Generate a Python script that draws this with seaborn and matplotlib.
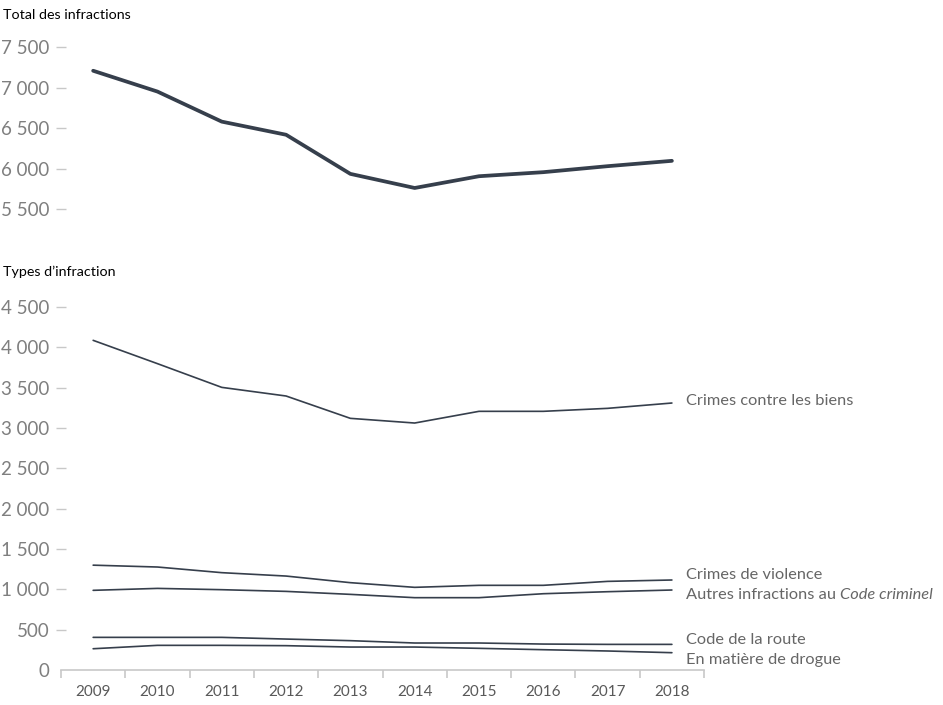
import matplotlib
matplotlib.use("Agg")
from matplotlib import pyplot as plt
from matplotlib.ticker import FuncFormatter
import seaborn as sns

# Données
annees = [2009, 2010, 2011, 2012, 2013, 2014, 2015, 2016, 2017, 2018]
total = [7207, 6950, 6579, 6417, 5934, 5760, 5905, 5955, 6029, 6095]
biens = [4087, 3798, 3504, 3397, 3120, 3062, 3207, 3207, 3244, 3310]
violence = [1300, 1277, 1207, 1165, 1083, 1025, 1050, 1050, 1099, 1116]
autres = [988, 1012, 996, 975, 938, 897, 897, 946, 971, 992]
route = [405, 405, 405, 384, 364, 335, 335, 322, 318, 318]
drogue = [264, 306, 306, 302, 285, 285, 269, 252, 236, 215]

series = [biens, violence, autres, route, drogue]
noms = ["Crimes contre les biens", "Crimes de violence", "Autres infractions au",
        "Code de la route", "En matière de drogue"]
decalages = [1.5, 3.5, -3.5, 3.5, -5]  # décalage vertical des étiquettes (points)

LIGNE = "#363f4c"
GRIS_AXE = "#c8c8c8"
GRIS_TXT = "#7f7f7f"

sns.set_theme(style="white")
plt.rcParams['font.family'] = ['Lato', 'DejaVu Sans']

fig = plt.figure(figsize=(9.43, 7.05), dpi=100)
ax_top = fig.add_axes([0.0647, 0.7035, 0.6819, 0.2298])
ax_bot = fig.add_axes([0.0647, 0.0496, 0.6819, 0.5149])

fmt = FuncFormatter(lambda v, p: f"{int(v):,}".replace(",", " "))

sns.lineplot(x=annees, y=total, ax=ax_top, color=LIGNE, linewidth=2.7)
for vals in series:
    sns.lineplot(x=annees, y=vals, ax=ax_bot, color=LIGNE, linewidth=1.2)

for ax in (ax_top, ax_bot):
    for s in ax.spines.values():
        s.set_visible(False)
    ax.grid(False)
    ax.set_xlim(2008.5, 2018.5)
    ax.set_xlabel('')
    ax.set_ylabel('')
    ax.yaxis.set_major_formatter(fmt)
    ax.tick_params(axis='y', left=True, direction='inout', length=7, width=1,
                   color=GRIS_AXE, labelsize=13.5, labelcolor=GRIS_TXT, pad=5)

ax_top.set_ylim(5500, 7500)
ax_top.set_yticks(range(5500, 7501, 500))
ax_top.set_xticks([])

ax_bot.set_ylim(0, 4500)
ax_bot.set_yticks(range(0, 4501, 500))
ax_bot.yaxis.get_major_ticks()[0].tick1line.set_visible(False)
ax_bot.spines['bottom'].set_visible(True)
ax_bot.spines['bottom'].set_color(GRIS_AXE)
ax_bot.spines['bottom'].set_linewidth(1.2)
ax_bot.set_xticks(annees)
ax_bot.set_xticks([a - 0.5 for a in annees] + [annees[-1] + 0.5], minor=True)
ax_bot.tick_params(axis='x', which='major', bottom=True, length=0, labelsize=11,
                   labelcolor="#595959", pad=11)
ax_bot.tick_params(axis='x', which='minor', bottom=True, direction='out', length=6,
                   width=1.2, color=GRIS_AXE)

for nom, vals, dy in zip(noms, series, decalages):
    t = ax_bot.annotate(nom, xy=(annees[-1], vals[-1]), xytext=(10, dy),
                        textcoords='offset points', ha='left', va='center',
                        fontsize=11.8, color="#666666")
    if nom.startswith("Autres"):
        ax_bot.annotate("Code criminel", xy=(1, 0), xycoords=t, xytext=(3, 0),
                        textcoords='offset points', ha='left', va='bottom',
                        fontsize=11.8, color="#666666", style='italic')

fig.text(3 / 943, 1 - 15 / 705, "Total des infractions", ha='left', va='center',
         fontsize=10.3, color='black')
fig.text(3 / 943, 1 - 272 / 705, "Types d’infraction", ha='left', va='center',
         fontsize=10.3, color='black')

fig.savefig("out.png", dpi=100)
